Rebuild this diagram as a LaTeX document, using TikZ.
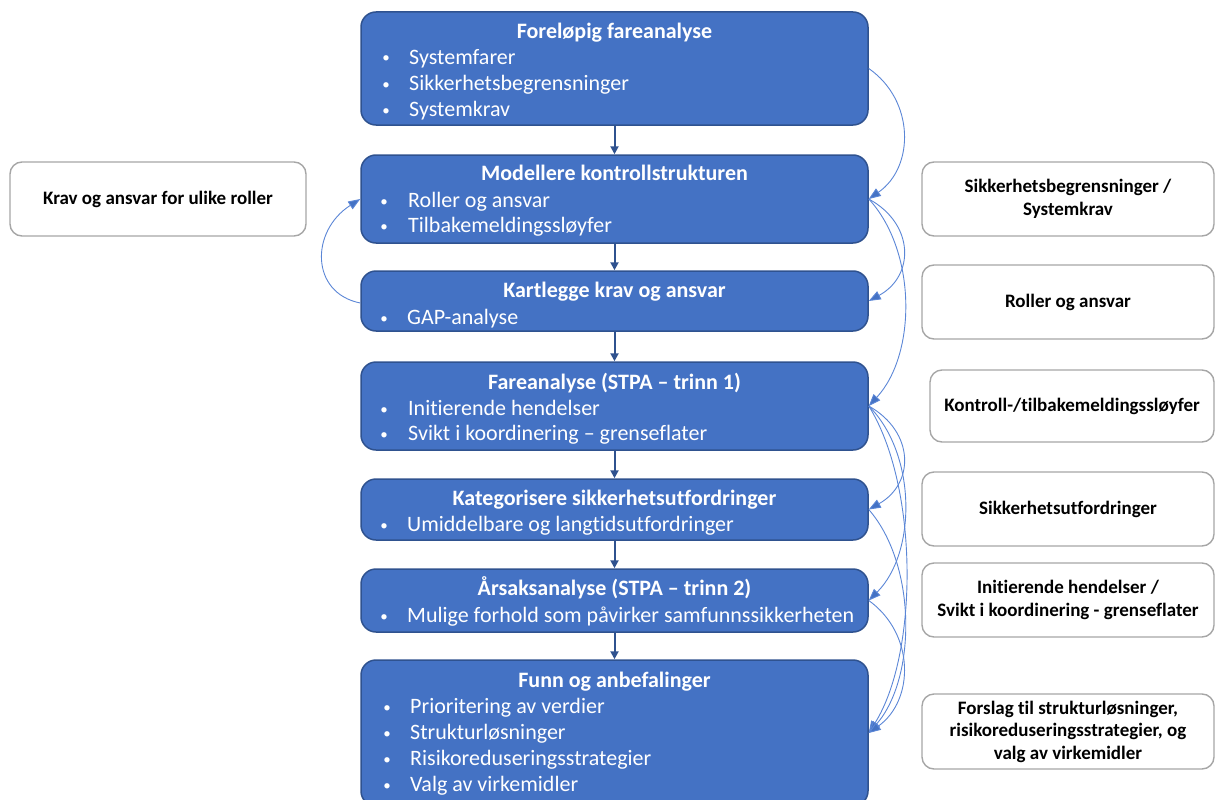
\documentclass[tikz,border=0pt]{standalone}
\usepackage{fontspec}
\setmainfont{Carlito}[Ligatures=NoCommon]
\usetikzlibrary{arrows.meta,calc}

\definecolor{stagefill}{HTML}{4472C4}
\definecolor{stageline}{HTML}{2F528F}
\definecolor{linkline}{HTML}{5B86D6}
\definecolor{linkhead}{HTML}{4472C4}
\definecolor{panelline}{HTML}{A6A6A6}

\tikzset{
  stage/.style={draw=stageline, line width=1.5pt, fill=stagefill,
    rounded corners=15pt, inner sep=0pt, minimum width=507pt},
  stagetitle/.style={anchor=base, text=white, inner sep=0pt,
    font=\fontsize{22}{26}\selectfont\bfseries},
  bulletmark/.style={anchor=base, text=white, inner sep=0pt,
    font=\fontsize{15}{18}\selectfont},
  bullettext/.style={anchor=base west, text=white, inner sep=0pt,
    font=\fontsize{22}{26}\selectfont},
  panel/.style={draw=panelline, line width=1.4pt, fill=white,
    rounded corners=12pt, inner sep=0pt, align=center, text=black,
    font=\fontsize{19}{22.5}\selectfont\bfseries},
  downflow/.style={draw=stageline, line width=2pt,
    -{Triangle[length=8pt,width=8pt]}},
  sidelink/.style={draw=linkline, line width=0.9pt,
    -{Triangle[length=12pt,width=9pt,fill=linkhead]}}
}

\begin{document}
\begin{tikzpicture}[x=1pt,y=-1pt]
\useasboundingbox (0,0) rectangle (1215,800);

% ---- process stages (centre column) ----
\node[stage, minimum height=113pt] (s1) at (614.5,68.5) {};
\node[stage, minimum height=88pt]  (s2) at (614.5,199) {};
\node[stage, minimum height=60pt]  (s3) at (614.5,301) {};
\node[stage, minimum height=88pt]  (s4) at (614.5,406) {};
\node[stage, minimum height=61pt]  (s5) at (614.5,509.5) {};
\node[stage, minimum height=63pt]  (s6) at (614.5,600.5) {};
\node[stage, minimum height=146pt] (s7) at (614.5,733) {};

% stage 1
\node[stagetitle] (t1) at (614.5,38.5) {Foreløpig fareanalyse};
\node[bulletmark] (b11) at (386,63) {•};
\node[bullettext] (l11) at (409,64) {Systemfarer};
\node[bulletmark] (b12) at (386,89) {•};
\node[bullettext] (l12) at (409,90) {Sikkerhetsbegrensninger};
\node[bulletmark] (b13) at (386,115) {•};
\node[bullettext] (l13) at (409,116) {Systemkrav};

% stage 2
\node[stagetitle] (t2) at (614.5,180.5) {Modellere kontrollstrukturen};
\node[bulletmark] (b21) at (384,206) {•};
\node[bullettext] (l21) at (408,207) {Roller og ansvar};
\node[bulletmark] (b22) at (384,231) {•};
\node[bullettext] (l22) at (408,232) {Tilbakemeldingssløyfer};

% stage 3
\node[stagetitle] (t3) at (614.5,297.5) {Kartlegge krav og ansvar};
\node[bulletmark] (b31) at (384,323) {•};
\node[bullettext] (l31) at (407,324) {GAP-analyse};

% stage 4
\node[stagetitle] (t4) at (614.5,389.5) {Fareanalyse (STPA – trinn 1)};
\node[bulletmark] (b41) at (384,414) {•};
\node[bullettext] (l41) at (408,415) {Initierende hendelser};
\node[bulletmark] (b42) at (384,439) {•};
\node[bullettext] (l42) at (408,440) {Svikt i koordinering – grenseflater};

% stage 5
\node[stagetitle] (t5) at (614.5,505.5) {Kategorisere sikkerhetsutfordringer};
\node[bulletmark] (b51) at (384,530) {•};
\node[bullettext] (l51) at (407,531) {Umiddelbare og langtidsutfordringer};

% stage 6
\node[stagetitle] (t6) at (614.5,595.5) {Årsaksanalyse (STPA – trinn 2)};
\node[bulletmark] (b61) at (384,621) {•};
\node[bullettext] (l61) at (407,622) {Mulige forhold som påvirker samfunnssikkerheten};

% stage 7
\node[stagetitle] (t7) at (614.5,687.5) {Funn og anbefalinger};
\node[bulletmark] (b71) at (387,712) {•};
\node[bullettext] (l71) at (410,713) {Prioritering av verdier};
\node[bulletmark] (b72) at (387,738) {•};
\node[bullettext] (l72) at (410,739) {Strukturløsninger};
\node[bulletmark] (b73) at (387,764) {•};
\node[bullettext] (l73) at (410,765) {Risikoreduseringsstrategier};
\node[bulletmark] (b74) at (387,790) {•};
\node[bullettext] (l74) at (410,791) {Valg av virkemidler};

% ---- side panels ----
\node[panel, minimum width=296pt, minimum height=74pt] (p0) at (158,199)
  {Krav og ansvar for ulike roller};
\node[panel, minimum width=292pt, minimum height=74pt] (p1) at (1068,199)
  {Sikkerhetsbegrensninger /\\Systemkrav};
\node[panel, minimum width=292pt, minimum height=74pt] (p2) at (1068,302)
  {Roller og ansvar};
\node[panel, minimum width=284pt, minimum height=72pt] (p3) at (1072,406)
  {Kontroll-/tilbakemeldingssløyfer};
\node[panel, minimum width=292pt, minimum height=74pt] (p4) at (1068,509)
  {Sikkerhetsutfordringer};
\node[panel, minimum width=292pt, minimum height=74pt] (p5) at (1068,600)
  {Initierende hendelser /\\Svikt i koordinering - grenseflater};
\node[panel, minimum width=292pt, minimum height=75pt] (p6) at (1068,731.5)
  {Forslag til strukturløsninger,\\risikoreduseringsstrategier, og\\valg av virkemidler};

% ---- main flow ----
\draw[downflow] (s1.south) -- (s2.north);
\draw[downflow] (s2.south) -- (s3.north);
\draw[downflow] (s3.south) -- (s4.north);
\draw[downflow] (s4.south) -- (s5.north);
\draw[downflow] (s5.south) -- (s6.north);
\draw[downflow] (s6.south) -- (s7.north);

% ---- feedback loop on the left ----
\draw[sidelink] ($(s3.west)+(0,2)$) .. controls ($(s3.west)+(-50,-8)$)
  and ($(s2.west)+(-50,32)$) .. (s2.west);

% ---- information links on the right ----
\draw[sidelink] (s1.east) .. controls ($(s1.east)+(46,32)$)
  and ($(s2.east)+(46,-32)$) .. (s2.east);
\draw[sidelink] (s2.east) .. controls ($(s2.east)+(46,25)$)
  and ($(s3.east)+(46,-25)$) .. (s3.east);
\draw[sidelink] (s2.east) .. controls ($(s2.east)+(48,52)$)
  and ($(s4.east)+(48,-52)$) .. (s4.east);
\draw[sidelink] (s4.east) .. controls ($(s4.east)+(46,26)$)
  and ($(s5.east)+(46,-26)$) .. (s5.east);
\draw[sidelink] (s4.east) .. controls ($(s4.east)+(48,48)$)
  and ($(s6.east)+(48,-48)$) .. (s6.east);
\draw[sidelink] (s4.east) .. controls ($(s4.east)+(50,80)$)
  and ($(s7.east)+(50,-80)$) .. (s7.east);
\draw[sidelink] (s5.east) .. controls ($(s5.east)+(48,55)$)
  and ($(s7.east)+(48,-55)$) .. (s7.east);
\draw[sidelink] (s6.east) .. controls ($(s6.east)+(46,33)$)
  and ($(s7.east)+(46,-33)$) .. (s7.east);
\end{tikzpicture}
\end{document}
